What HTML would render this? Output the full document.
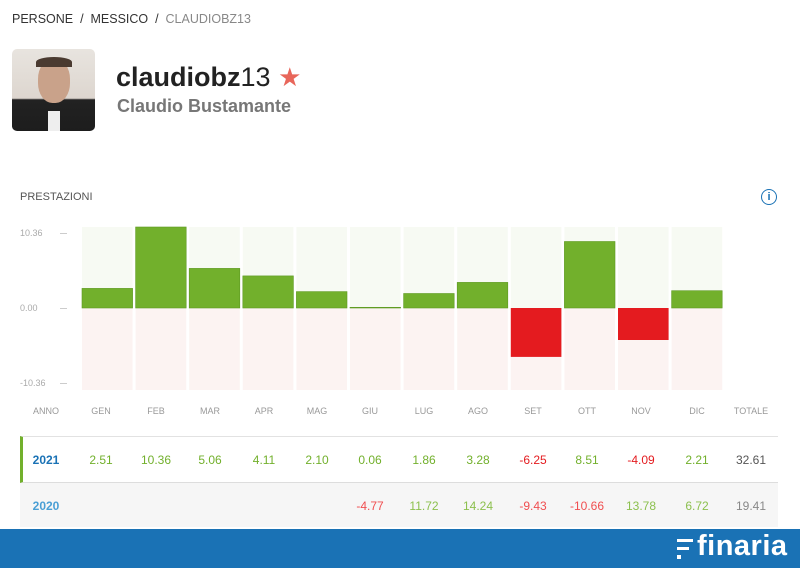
<!DOCTYPE html><html><head><style>
body{margin:0;width:800px;height:568px;position:relative;background:#fff;font-family:"Liberation Sans",sans-serif;overflow:hidden}
.a{position:absolute}
.c{position:absolute;transform:translateX(-50%);white-space:nowrap}
</style></head><body>
<div class="a" style="left:12px;top:12px;font-size:12.5px;color:#333">PERSONE &nbsp;/&nbsp; MESSICO &nbsp;/&nbsp; <span style="color:#888">CLAUDIOBZ13</span></div>
<div class="a" style="left:12px;top:49px;width:83px;height:82px;border-radius:5px;overflow:hidden;background:linear-gradient(#e8e4df 0,#ddd6cf 60%,#222 62%,#1d1d1d 100%)"><div class="a" style="left:26px;top:10px;width:32px;height:44px;border-radius:45%;background:#c9a28a"></div><div class="a" style="left:24px;top:8px;width:36px;height:10px;border-radius:50% 50% 0 0;background:#4a3a30"></div><div class="a" style="left:36px;top:62px;width:12px;height:20px;background:#eee"></div></div>
<div class="a" style="left:116px;top:62px;font-size:27px;color:#222"><b>claudiobz</b>13 <span style="color:#e8665a;font-size:26px">★</span></div>
<div class="a" style="left:117px;top:96px;font-size:18px;font-weight:bold;color:#777">Claudio Bustamante</div>
<div class="a" style="left:20px;top:191px;font-size:11px;color:#555">PRESTAZIONI</div>
<div class="a" style="left:761px;top:189px;width:14px;height:14px;border:1.5px solid #1a72b5;border-radius:50%;color:#1a72b5;font-size:11px;font-weight:bold;text-align:center;line-height:14px">i</div>
<div class="a" style="left:20px;top:228px;font-size:9px;color:#aaa">10.36</div>
<div class="a" style="left:20px;top:303px;font-size:9px;color:#aaa">0.00</div>
<div class="a" style="left:20px;top:378px;font-size:9px;color:#aaa">-10.36</div>
<div class="a" style="left:60px;top:233px;width:7px;height:1px;background:#ccc"></div>
<div class="a" style="left:60px;top:308px;width:7px;height:1px;background:#ccc"></div>
<div class="a" style="left:60px;top:383px;width:7px;height:1px;background:#ccc"></div>
<svg class="a" style="left:0;top:0" width="800" height="568">
<g fill="#f7faf3">
<rect x="82" y="227" width="50.6" height="81"/><rect x="135.6" y="227" width="50.6" height="81"/><rect x="189.2" y="227" width="50.6" height="81"/><rect x="242.8" y="227" width="50.6" height="81"/><rect x="296.4" y="227" width="50.6" height="81"/><rect x="350" y="227" width="50.6" height="81"/><rect x="403.6" y="227" width="50.6" height="81"/><rect x="457.2" y="227" width="50.6" height="81"/><rect x="510.8" y="227" width="50.6" height="81"/><rect x="564.4" y="227" width="50.6" height="81"/><rect x="618" y="227" width="50.6" height="81"/><rect x="671.6" y="227" width="50.6" height="81"/>
</g>
<g fill="#fcf3f2">
<rect x="82" y="308" width="50.6" height="82"/><rect x="135.6" y="308" width="50.6" height="82"/><rect x="189.2" y="308" width="50.6" height="82"/><rect x="242.8" y="308" width="50.6" height="82"/><rect x="296.4" y="308" width="50.6" height="82"/><rect x="350" y="308" width="50.6" height="82"/><rect x="403.6" y="308" width="50.6" height="82"/><rect x="457.2" y="308" width="50.6" height="82"/><rect x="510.8" y="308" width="50.6" height="82"/><rect x="564.4" y="308" width="50.6" height="82"/><rect x="618" y="308" width="50.6" height="82"/><rect x="671.6" y="308" width="50.6" height="82"/>
</g>
<g fill="#72b02c" stroke="#5e9a22" stroke-width="0.6">
<rect x="82" y="288.4" width="50.6" height="19.6"/>
<rect x="135.6" y="227" width="50.6" height="81"/>
<rect x="189.2" y="268.4" width="50.6" height="39.6"/>
<rect x="242.8" y="275.9" width="50.6" height="32.1"/>
<rect x="296.4" y="291.6" width="50.6" height="16.4"/>
<rect x="350" y="307.3" width="50.6" height="0.7"/>
<rect x="403.6" y="293.5" width="50.6" height="14.5"/>
<rect x="457.2" y="282.4" width="50.6" height="25.6"/>
<rect x="564.4" y="241.5" width="50.6" height="66.5"/>
<rect x="671.6" y="290.7" width="50.6" height="17.3"/>
</g>
<g fill="#e41b1f">
<rect x="510.8" y="308" width="50.6" height="48.9"/>
<rect x="618" y="308" width="50.6" height="32"/>
</g>
</svg>
<div class="a" style="left:20px;top:436px;width:758px;height:47px;border-top:1px solid #e2e2e2;border-bottom:1px solid #ddd;border-left:3px solid #72b02c;box-sizing:border-box"></div>
<div class="a" style="left:20px;top:483px;width:758px;height:44px;background:#f6f6f6"></div>
<div id="t"></div>
<script>
var xs=[46,101,156,210,264,317,370,424,478,533,587,641,697,751];
var hd=['ANNO','GEN','FEB','MAR','APR','MAG','GIU','LUG','AGO','SET','OTT','NOV','DIC','TOTALE'];
var r1=['2021','2.51','10.36','5.06','4.11','2.10','0.06','1.86','3.28','-6.25','8.51','-4.09','2.21','32.61'];
var r2=['2020','','','','','','-4.77','11.72','14.24','-9.43','-10.66','13.78','6.72','19.41'];
var o='';
function col(t,i,a){if(i==0)return a?'#1a72b5':'#4a9fd5';if(i==13)return a?'#555':'#888';return t[0]=='-'?(a?'#e41b1f':'#f04e50'):(a?'#72b02c':'#8cc04e');}
for(var i=0;i<14;i++){
o+='<div class="c" style="left:'+xs[i]+'px;top:406px;font-size:9px;color:#999">'+hd[i]+'</div>';
o+='<div class="c" style="left:'+xs[i]+'px;top:453px;font-size:12px;'+(i==0?'font-weight:bold;':'')+'color:'+col(r1[i],i,1)+'">'+r1[i]+'</div>';
o+='<div class="c" style="left:'+xs[i]+'px;top:499px;font-size:12px;'+(i==0?'font-weight:bold;':'')+'color:'+col(r2[i],i,0)+'">'+r2[i]+'</div>';}
document.getElementById('t').innerHTML=o;
</script>
<div class="a" style="left:0;top:529px;width:800px;height:39px;background:#1a72b5"></div>
<div class="a" style="left:677px;top:539px;width:16px;height:3px;background:#fff"></div>
<div class="a" style="left:677px;top:547px;width:12px;height:3px;background:#fff"></div>
<div class="a" style="left:677px;top:555px;width:4px;height:4px;background:#fff"></div>
<div class="a" style="left:697px;top:530px;font-size:29px;font-weight:bold;color:#fff;letter-spacing:0.5px">finaria</div>
</body></html>
